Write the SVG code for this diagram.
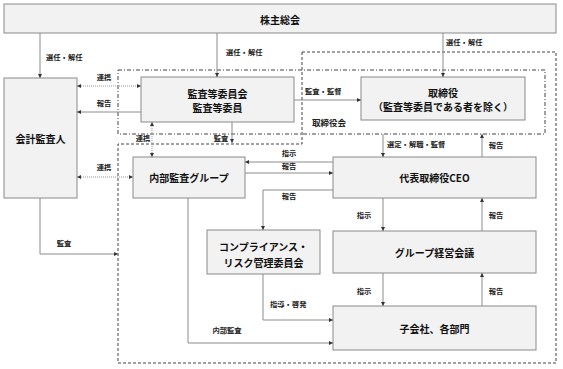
<svg xmlns="http://www.w3.org/2000/svg" width="563" height="369" viewBox="0 0 563 369">
<defs>
<marker id="ah" viewBox="0 0 6 6" refX="6" refY="3" markerWidth="4" markerHeight="4" markerUnits="userSpaceOnUse" orient="auto-start-reverse">
<path d="M0 0 L6 3 L0 6 Z" fill="#333"/>
</marker>
</defs>
<style>
.box{fill:#f2f2f2;stroke:#8a8a8a;stroke-width:1}
.t{font-family:"Noto Sans CJK JP","Noto Sans",sans-serif;font-size:10px;font-weight:bold;fill:#111;text-anchor:middle;dominant-baseline:central}
.s{font-family:"Noto Sans CJK JP","Noto Sans",sans-serif;font-size:7.3px;font-weight:bold;fill:#222;dominant-baseline:central}
.m{text-anchor:middle}
.ln{fill:none;stroke:#8c8c8c;stroke-width:1;marker-end:url(#ah)}
.dot{fill:none;stroke:#9a9a9a;stroke-width:1;stroke-dasharray:1 1;marker-end:url(#ah);marker-start:url(#ah)}
.dd{fill:none;stroke:#444;stroke-width:1;stroke-dasharray:4 2 1 2}
.ds{fill:none;stroke:#444;stroke-width:1;stroke-dasharray:3 2}
</style>
<g id="boundaries">
<rect class="dd" x="118" y="70" width="427" height="64"/>
<path class="ds" d="M302 52 H556 V363 H118 V144 H302 Z"/>
<text class="s" x="312" y="122" style="font-size:8.5px">取締役会</text>
</g>
<g id="n_shareholders"><rect class="box" x="4" y="4" width="552" height="29"/><text class="t" x="280" y="19">株主総会</text></g>
<g id="n_auditor"><rect class="box" x="4" y="78" width="73" height="120"/><text class="t" x="40.5" y="138">会計監査人</text></g>
<g id="n_committee"><rect class="box" x="141" y="77" width="153" height="45"/><text class="t" x="217.5" y="93">監査等委員会</text><text class="t" x="217.5" y="107">監査等委員</text></g>
<g id="n_directors"><rect class="box" x="361" y="77" width="164" height="43"/><text class="t" x="443" y="92">取締役</text><text class="t" x="443" y="106">（監査等委員である者を除く）</text></g>
<g id="n_internal"><rect class="box" x="133" y="157" width="112" height="41"/><text class="t" x="189" y="177.5">内部監査グループ</text></g>
<g id="n_ceo"><rect class="box" x="333" y="157" width="203" height="41"/><text class="t" x="434.5" y="177.5">代表取締役CEO</text></g>
<g id="n_compliance"><rect class="box" x="207" y="230" width="113" height="44"/><text class="t" x="263.5" y="246">コンプライアンス・</text><text class="t" x="263.5" y="262">リスク管理委員会</text></g>
<g id="n_group"><rect class="box" x="333" y="231" width="203" height="42"/><text class="t" x="434.5" y="252">グループ経営会議</text></g>
<g id="n_subs"><rect class="box" x="333" y="306" width="203" height="44"/><text class="t" x="434.5" y="328">子会社、各部門</text></g>
<g id="connectors">
<path class="ln" d="M40 33 V78"/><text class="s" x="46" y="57">選任・解任</text>
<path class="ln" d="M217 33 V77"/><text class="s" x="226" y="52">選任・解任</text>
<path class="ln" d="M443 33 V77"/><text class="s" x="446" y="42">選任・解任</text>
<path class="dot" d="M77 86 H141"/><text class="s m" x="104" y="77">連携</text>
<path class="ln" d="M141 112 H77"/><text class="s m" x="104" y="103">報告</text>
<path class="ln" d="M294 100 H361"/><text class="s" x="305" y="91">監査・監督</text>
<path class="dot" d="M152 122 V157"/><text class="s m" x="143" y="138">連携</text>
<path class="ln" d="M232 122 V143"/><text class="s m" x="221" y="138">監査</text>
<path class="dot" d="M77 177 H133"/><text class="s m" x="104" y="167">連携</text>
<path class="ln" d="M40 198 V254 H118"/><text class="s m" x="64" y="243">監査</text>
<path class="ln" d="M333 162 H245"/><text class="s m" x="289" y="153">指示</text>
<path class="ln" d="M245 173 H333"/><text class="s m" x="289" y="166">報告</text>
<path class="ln" d="M333 190 H263 V230"/><text class="s m" x="289" y="196">報告</text>
<path class="ln" d="M383 134 V157"/><text class="s" x="387" y="144">選定・解職・監督</text>
<path class="ln" d="M482 157 V134"/><text class="s m" x="496" y="145">報告</text>
<path class="ln" d="M383 198 V231"/><text class="s m" x="364" y="215">指示</text>
<path class="ln" d="M482 231 V198"/><text class="s m" x="496" y="215">報告</text>
<path class="ln" d="M383 273 V306"/><text class="s m" x="364" y="291">指示</text>
<path class="ln" d="M482 306 V273"/><text class="s m" x="496" y="291">報告</text>
<path class="ln" d="M263 274 V320 H333"/><text class="s" x="270" y="304">指導・啓発</text>
<path class="ln" d="M188 198 V343 H333"/><text class="s m" x="227" y="330">内部監査</text>
</g>
</svg>
